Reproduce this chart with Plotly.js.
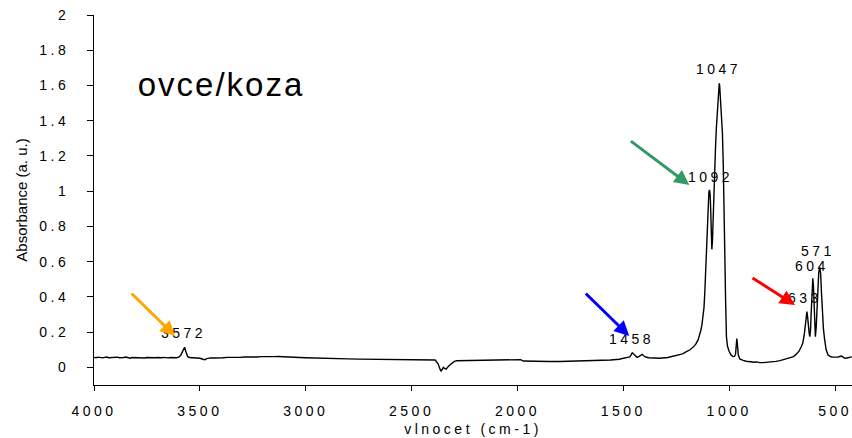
<!DOCTYPE html>
<html>
<head>
<meta charset="utf-8">
<script src="https://cdn.plot.ly/plotly-3.0.1.min.js"></script>
<style>
  html, body { margin: 0; padding: 0; background: #fff; }
  #chart { width: 852px; height: 438px; }
  .xtick text, .ytick text { letter-spacing: 3.5px; }
  .g-xtitle text { letter-spacing: 3.5px; }
  .annotation-text { letter-spacing: 3.5px; }
</style>
</head>
<body>
<div id="chart"></div>
<script>
// Spectrum: wavenumber (cm-1) and absorbance (a.u.)
const wavenumber = [
  4000,3990,3980,3970,3960,3950,3940,3930,3920,3910,3900,3890,3880,3870,3860,3850,3840,3830,3820,3810,
  3800,3790,3780,3770,3760,3750,3740,3730,3720,3710,3700,3690,3680,3670,3660,3650,3640,3630,3620,3610,
  3600,3590,3580,3572,3566,3558,3550,3540,3520,3500,3485,3476,3468,3450,3430,3410,3390,3370,3350,3330,
  3310,3290,3270,3250,3230,3210,3190,3170,3150,3130,3110,3090,3060,3030,3000,2960,2920,2880,2840,2800,
  2750,2700,2650,2600,2550,2500,2450,2400,2389,2375,2362,2356,2350,2344,2337,2325,2311,2298,2287,2250,
  2200,2150,2100,2050,2010,2000,1985,1972,1950,1900,1850,1800,1750,1700,1650,1600,1560,1520,1490,1470,
  1464,1458,1450,1442,1435,1425,1418,1411,1404,1395,1380,1360,1328,1290,1250,1220,1202,1185,1170,1158,
  1147,1140,1135,1129,1123,1119,1115,1111,1107,1103,1100,1096,1093,1090,1088,1085,1082,1079,1076,1073,
  1071,1068,1065,1061,1058,1055,1052,1049,1047,1045,1042,1038,1035,1032,1028,1025,1021,1017,1013,1008,
  1000,992,982,975,970,967,964,961,957,950,942,934,920,900,880,870,856,840,820,800,
  780,760,740,714,700,690,680,670,659,652,645,640,636,633,630,627,622,619,616,612,
  609,605,602,599,596,593,589,585,581,577,572,568,564,560,555,549,542,533,520,510,
  500,493,485,478,470,462,454,445,436,428,421
];
const absorbance = [
  0.057,0.055,0.058,0.056,0.054,0.057,0.059,0.055,0.056,0.053,0.057,0.058,0.055,0.054,0.056,0.059,0.055,0.052,0.056,0.055,
  0.057,0.054,0.056,0.055,0.053,0.056,0.055,0.054,0.057,0.055,0.056,0.054,0.055,0.057,0.055,0.054,0.056,0.055,0.056,0.055,
  0.058,0.068,0.095,0.114,0.090,0.062,0.056,0.055,0.054,0.052,0.046,0.043,0.050,0.054,0.053,0.056,0.055,0.057,0.056,0.058,
  0.057,0.059,0.058,0.060,0.059,0.061,0.060,0.062,0.061,0.062,0.060,0.059,0.058,0.056,0.055,0.053,0.052,0.051,0.049,0.048,
  0.047,0.046,0.046,0.045,0.045,0.044,0.044,0.043,0.042,0.020,-0.022,-0.012,0.000,-0.006,-0.010,0.008,0.024,0.034,0.038,0.039,
  0.039,0.040,0.041,0.042,0.044,0.045,0.044,0.036,0.035,0.034,0.033,0.033,0.034,0.036,0.038,0.040,0.042,0.046,0.052,0.060,
  0.070,0.083,0.074,0.062,0.057,0.063,0.070,0.074,0.066,0.059,0.055,0.053,0.052,0.056,0.066,0.077,0.089,0.100,0.115,0.132,
  0.156,0.178,0.205,0.240,0.288,0.340,0.430,0.560,0.742,0.860,0.940,0.995,1.007,0.980,0.920,0.800,0.670,0.720,0.850,0.980,
  1.043,1.140,1.235,1.350,1.420,1.500,1.560,1.600,1.612,1.600,1.550,1.460,1.400,1.329,1.150,0.856,0.600,0.382,0.174,0.120,
  0.090,0.072,0.061,0.062,0.075,0.120,0.164,0.130,0.070,0.048,0.042,0.040,0.035,0.030,0.029,0.031,0.027,0.027,0.028,0.030,
  0.034,0.038,0.044,0.052,0.060,0.067,0.078,0.092,0.118,0.140,0.190,0.250,0.300,0.316,0.290,0.240,0.190,0.174,0.210,0.330,
  0.440,0.506,0.460,0.320,0.210,0.174,0.230,0.360,0.470,0.540,0.568,0.530,0.420,0.320,0.220,0.155,0.100,0.070,0.060,0.058,
  0.057,0.057,0.059,0.062,0.064,0.058,0.052,0.053,0.055,0.057,0.060
];

// Peak labels (wavenumber text)
const peakLabels = ["3572", "1458", "1092", "1047", "633", "604", "571"];
const chartTitle = "ovce/koza";
const xTitle = "vlnocet (cm-1)";
const yTitle = "Absorbance (a. u.)";

const FONT = "Liberation Sans, Arial, sans-serif";

const trace = {
  x: wavenumber,
  y: absorbance,
  type: "scatter",
  mode: "lines",
  line: { color: "#000000", width: 1.4 },
  hoverinfo: "x+y"
};

// label positions in data coords
const labelPos = {
  "3572": [3576, 0.197],
  "1458": [1460, 0.161],
  "1092": [1088, 1.082],
  "1047": [1049, 1.692],
  "633":  [642, 0.392],
  "604":  [610, 0.578],
  "571":  [579, 0.662]
};

const annotations = [];
peakLabels.forEach(l => {
  annotations.push({
    x: labelPos[l][0], y: labelPos[l][1], xref: "x", yref: "y",
    text: l, showarrow: false,
    font: { family: FONT, size: 14, color: "#000" },
    xanchor: "center", yanchor: "middle"
  });
});

// arrows (head at x,y; tail offset in px)
const arrows = [
  { x: 3617, y: 0.178, ax: -45, ay: -44, color: "#FFA500" },
  { x: 1472, y: 0.178, ax: -45, ay: -44, color: "#0000FF" },
  { x: 1188, y: 1.035, ax: -60, ay: -45, color: "#339966" },
  { x: 689,  y: 0.354, ax: -44, ay: -28, color: "#FF0000" }
];
arrows.forEach(a => {
  annotations.push({
    x: a.x, y: a.y, xref: "x", yref: "y",
    ax: a.ax, ay: a.ay, axref: "pixel", ayref: "pixel",
    text: "", showarrow: true, arrowhead: 2, arrowsize: 1, arrowwidth: 3,
    arrowcolor: a.color, standoff: 0
  });
});

// big title, placed at pixel (221, 85) converted to paper coords
const pw = 852 - 94, ph = 438 - 15 - 53;
annotations.push({
  x: (221 - 94) / pw, y: (438 - 53 - 85) / ph, xref: "paper", yref: "paper",
  text: chartTitle, showarrow: false,
  font: { family: FONT, size: 33, color: "#000" },
  xanchor: "center", yanchor: "middle"
});

const layout = {
  width: 852, height: 438,
  margin: { l: 94, r: 0, t: 15, b: 53 },
  paper_bgcolor: "#fff", plot_bgcolor: "#fff",
  showlegend: false,
  font: { family: FONT, size: 14, color: "#000" },
  xaxis: {
    range: [4000, 420],
    tick0: 0, dtick: 500,
    showgrid: false, zeroline: false,
    showline: true, linecolor: "#000", linewidth: 1,
    ticks: "outside", ticklen: 5, tickcolor: "#000", tickwidth: 1,
    ticklabeloverflow: "allow",
    ticklabelstandoff: 8,
    tickfont: { family: FONT, size: 14, color: "#000" },
    title: { text: xTitle, font: { family: FONT, size: 14, color: "#000" }, standoff: 6 }
  },
  yaxis: {
    range: [-0.1, 2],
    tick0: 0, dtick: 0.2,
    showgrid: false, zeroline: false,
    showline: true, linecolor: "#000", linewidth: 1,
    ticks: "outside", ticklen: 6, tickcolor: "#000", tickwidth: 1,
    ticklabelstandoff: 15,
    tickfont: { family: FONT, size: 14, color: "#000" },
    title: { text: yTitle, font: { family: FONT, size: 15, color: "#000" }, standoff: 7 }
  },
  annotations: annotations
};

Plotly.newPlot("chart", [trace], layout, { displayModeBar: false, staticPlot: true }).then(() => {
  document.querySelectorAll(".annotation-text").forEach(t => {
    if (t.textContent === chartTitle) t.style.letterSpacing = "2px";
  });
});
</script>
</body>
</html>
